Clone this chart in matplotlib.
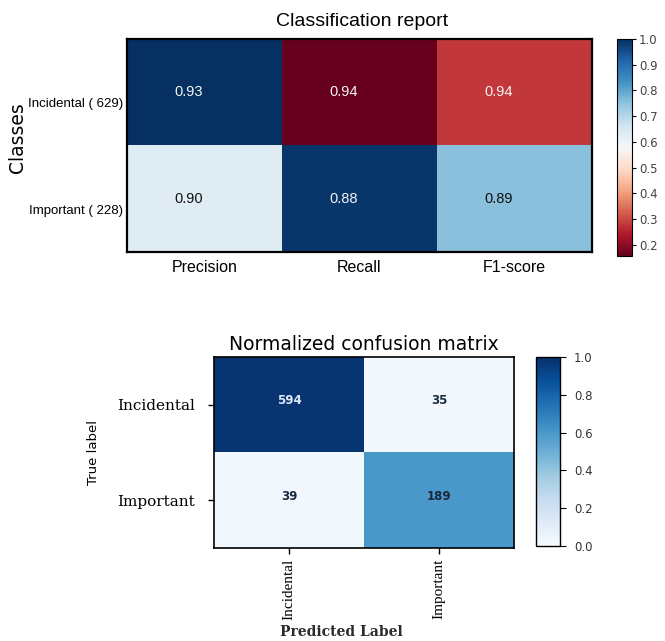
"""
    Classification report and normalized confusion matrix for the
    incidental / important finding classifier.
"""

import matplotlib

matplotlib.use('Agg')
import matplotlib.pyplot as plt
import numpy as np


# classification report
report_classes = ['Incidental ( 629)', 'Important ( 228)']
report_metrics = ['Precision', 'Recall', 'F1-score']
report_scores = [[0.93, 0.94, 0.94],
                 [0.90, 0.88, 0.89]]
# colour value of every cell, on the colour bar scale
report_shading = [[1.00, 0.16, 0.28],
                  [0.63, 0.99, 0.755]]
report_vmin = 0.157
report_cbar_ticks = [0.2, 0.3, 0.4, 0.5, 0.6, 0.7, 0.8, 0.9, 1.0]

# confusion matrix
cm_classes = ['Incidental', 'Important']
cm_counts = [[594, 35],
             [39, 189]]
cm_shading = [[0.98, 0.02],
              [0.03, 0.60]]
cm_cbar_ticks = [0.0, 0.2, 0.4, 0.6, 0.8, 1.0]

NARROW = ['Liberation Sans Narrow', 'Liberation Sans', 'DejaVu Sans']


def classification_report(fig):
    """ Heat map of precision / recall / f1 per class """

    ax = fig.add_axes([0.191, 0.6069, 0.699, 0.3323])
    cax = fig.add_axes([0.928, 0.6006, 0.0226, 0.3386])

    shading = np.array(report_shading)
    im = ax.pcolormesh(shading, cmap='RdBu', vmin=report_vmin, vmax=1.0)
    ax.invert_yaxis()

    for i, row in enumerate(report_scores):
        for j, val in enumerate(row):
            dark = shading[i, j] > 0.85 or shading[i, j] < 0.3
            ax.text(j + 0.4, i + 0.5, '{:.2f}'.format(val),
                    ha='center', va='center', fontsize=10.5, family=NARROW,
                    color='#f4f4f4' if dark else '#111111')

    ax.set_xticks(np.arange(len(report_metrics)) + 0.5)
    ax.set_xticklabels(report_metrics, family=NARROW, fontsize=11.5)
    # class labels sit a little below the row centres
    ax.set_yticks(np.arange(len(report_classes)) + 0.6)
    ax.set_yticklabels(report_classes, family=NARROW, fontsize=9.5)
    ax.tick_params(length=0)
    ax.tick_params(axis='x', pad=6)
    ax.tick_params(axis='y', pad=3)
    for spine in ax.spines.values():
        spine.set_linewidth(1.6)

    fig.text(0.544, 0.9657, 'Classification report', family=NARROW,
             fontsize=14, ha='center', va='center')
    fig.text(0.026, 0.786, 'Classes', rotation=90, fontsize=13.5,
             ha='center', va='center')

    cbar = fig.colorbar(im, cax=cax, ticks=report_cbar_ticks)
    cbar.ax.tick_params(labelsize=8.5, length=3, width=0.8, pad=2,
                        labelcolor='#444444')
    cbar.ax.set_yticklabels(['{:.1f}'.format(t) for t in report_cbar_ticks])
    cbar.outline.set_linewidth(0.8)

    return ax


def confusion_matrix(fig):
    """ Confusion matrix coloured by the normalized rates """

    ax = fig.add_axes([0.3218, 0.1451, 0.4511, 0.298])
    cax = fig.add_axes([0.806, 0.1482, 0.0361, 0.2949])

    shading = np.array(cm_shading)
    im = ax.imshow(shading, cmap='Blues', vmin=0.0, vmax=1.0,
                   interpolation='nearest', aspect='auto')

    for i, row in enumerate(cm_counts):
        for j, val in enumerate(row):
            ax.text(j, i - 0.04, str(val), ha='center', va='center',
                    fontsize=8.5, fontweight='bold',
                    color='#dde8f7' if shading[i, j] > 0.7 else '#1a2a40')

    ticks = np.arange(len(cm_classes))
    ax.set_xticks(ticks)
    ax.set_xticklabels(cm_classes, rotation=90,
                       family=['Liberation Serif', 'DejaVu Serif'], fontsize=11)
    ax.set_yticks(ticks)
    ax.set_yticklabels(cm_classes, family='DejaVu Serif', fontsize=11)
    ax.tick_params(axis='y', pad=10)
    ax.tick_params(width=1.0, length=4)
    for spine in ax.spines.values():
        spine.set_linewidth(1.2)

    ax.set_title('Normalized confusion matrix', fontsize=13.5, pad=5)
    ax.set_ylabel('True label', fontsize=9.5, labelpad=12)
    fig.text(0.514, 0.014, 'Predicted Label', family='DejaVu Serif',
             fontweight='bold', fontsize=10, color='#2a2a2a',
             ha='center', va='center')

    cbar = fig.colorbar(im, cax=cax, ticks=cm_cbar_ticks)
    cbar.ax.tick_params(labelsize=8.5, length=4, width=0.8, pad=6,
                        labelcolor='#333333')
    cbar.outline.set_linewidth(1.0)

    return ax


fig = plt.figure(figsize=(6.65, 6.41), dpi=100)
classification_report(fig)
confusion_matrix(fig)
fig.savefig('out.png', dpi=100)
